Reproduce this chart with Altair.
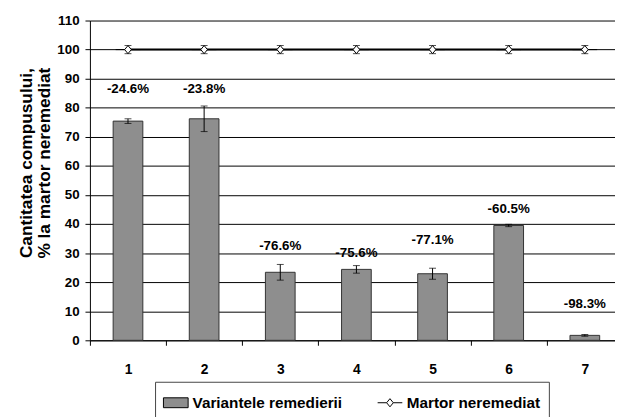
import altair as alt
import pandas as pd

categories = ["1", "2", "3", "4", "5", "6", "7"]
treated = [75.4, 76.2, 23.4, 24.4, 22.9, 39.5, 1.7]
treated_err = [0.8, 4.4, 2.7, 1.3, 1.9, 0.4, 0.3]
change_labels = ["-24.6%", "-23.8%", "-76.6%", "-75.6%", "-77.1%", "-60.5%", "-98.3%"]
label_y = [86.3, 86.6, 32.4, 30.1, 34.5, 45.0, 12.5]
control = [100, 100, 100, 100, 100, 100, 100]
control_err = [1.4, 1.4, 1.4, 1.4, 1.4, 1.4, 1.4]
series_names = ["Variantele remedierii", "Martor neremediat"]
y_ticks = [0, 10, 20, 30, 40, 50, 60, 70, 80, 90, 100, 110]
y_title = ["Cantitatea compusului,", "% la martor neremediat"]

FONT = "Liberation Sans Narrow, Arial Narrow, Liberation Sans, Arial, sans-serif"
WIDE = "Liberation Sans, Arial, sans-serif"

bars_df = pd.DataFrame({
    "cat": categories,
    "value": treated,
    "lo": [v - e for v, e in zip(treated, treated_err)],
    "hi": [v + e for v, e in zip(treated, treated_err)],
    "label": change_labels,
    "label_y": label_y,
    "series": series_names[0],
})
ctrl_df = pd.DataFrame({
    "cat": categories,
    "value": control,
    "lo": [v - e for v, e in zip(control, control_err)],
    "hi": [v + e for v, e in zip(control, control_err)],
    "series": series_names[1],
})

rect_path = "M-1,-0.4L1,-0.4L1,0.4L-1,0.4Z"
diamond_path = "M-1,0L-0.27,0M0.27,0L1,0M0,-0.33L0.27,0L0,0.33L-0.27,0Z"

x_axis = alt.Axis(
    title=None, labelAngle=0, tickBand="extent", tickSize=5, labelPadding=18,
    domainColor="black", tickColor="black", labelColor="black",
    labelFont=FONT, labelFontSize=14, labelFontWeight="bold", grid=False,
)
x_scale = alt.Scale(domain=categories, range=[0, 540], paddingInner=0, paddingOuter=0)

y_scale = alt.Scale(domain=[0, 110], nice=False, zero=True)
y_axis = alt.Axis(
    values=y_ticks, title=y_title, grid=True, gridColor="black", gridWidth=1,
    labelOverlap=False,
    domainColor="black", tickColor="black", tickSize=5, labelPadding=6,
    labelColor="black", labelFont=FONT, labelFontSize=13.5, labelFontWeight="bold",
    titleFont=WIDE, titleFontSize=17.5, titleFontWeight="bold", titleColor="black",
    titleAngle=270, titleX=-73, titleY=144, titleBaseline="top", titleAlign="center",
    titleLineHeight=18,
)


def X():
    return alt.X("cat:N", sort=categories, scale=x_scale, axis=x_axis)


def Y(field):
    return alt.Y(field + ":Q", scale=y_scale, axis=y_axis)


legend_def = alt.Legend(
    title=None, orient="none", legendX=66, legendY=366, direction="horizontal",
    columns=2, columnPadding=33, symbolSize=625, symbolStrokeColor="black",
    symbolStrokeWidth=1, labelFont=FONT, labelFontSize=15.5, labelFontWeight="bold",
    labelColor="black", labelOffset=4, labelLimit=0, strokeColor="#444", padding=8,
)
fill_scale = alt.Scale(domain=series_names, range=["#8e8e8e", "white"])
shape_scale = alt.Scale(domain=series_names, range=[rect_path, diamond_path])

base_b = alt.Chart(bars_df)
base_c = alt.Chart(ctrl_df)

bars = base_b.mark_bar(width=alt.RelativeBandSize(0.39), stroke="#333", strokeWidth=1).encode(
    x=X(), y=Y("value"),
    fill=alt.Fill("series:N", scale=fill_scale, legend=legend_def),
)
bar_rule = base_b.mark_rule(color="black", strokeWidth=1).encode(x=X(), y=Y("lo"), y2="hi:Q")
bar_cap_hi = base_b.mark_tick(color="black", size=7, thickness=1, orient="horizontal").encode(x=X(), y=Y("hi"))
bar_cap_lo = base_b.mark_tick(color="black", size=7, thickness=1, orient="horizontal").encode(x=X(), y=Y("lo"))
labels = base_b.mark_text(font=FONT, fontSize=13.5, fontWeight="bold", color="black", baseline="middle").encode(
    x=X(), y=Y("label_y"), text="label:N"
)

line = base_c.mark_line(color="black", strokeWidth=2).encode(x=X(), y=Y("value"))
c_rule = base_c.mark_rule(color="black", strokeWidth=1).encode(x=X(), y=Y("lo"), y2="hi:Q")
c_cap_hi = base_c.mark_tick(color="black", size=7, thickness=1, orient="horizontal").encode(x=X(), y=Y("hi"))
c_cap_lo = base_c.mark_tick(color="black", size=7, thickness=1, orient="horizontal").encode(x=X(), y=Y("lo"))
points = base_c.mark_point(filled=True, size=625, stroke="black", strokeWidth=1, opacity=1).encode(
    x=X(), y=Y("value"),
    fill=alt.Fill("series:N", scale=fill_scale, legend=legend_def),
    shape=alt.Shape("series:N", scale=shape_scale, legend=legend_def),
)

chart = alt.layer(
    bars, bar_rule, bar_cap_hi, bar_cap_lo, labels, line, c_rule, c_cap_hi, c_cap_lo, points
).properties(
    width=532, height=324,
    autosize=alt.AutoSizeParams(type="none"),
    padding={"left": 83, "top": 10, "right": 0, "bottom": 75},
    background="white",
).configure_view(stroke=None)

chart.save("out.html", embed_options={"renderer": "svg", "actions": False})
